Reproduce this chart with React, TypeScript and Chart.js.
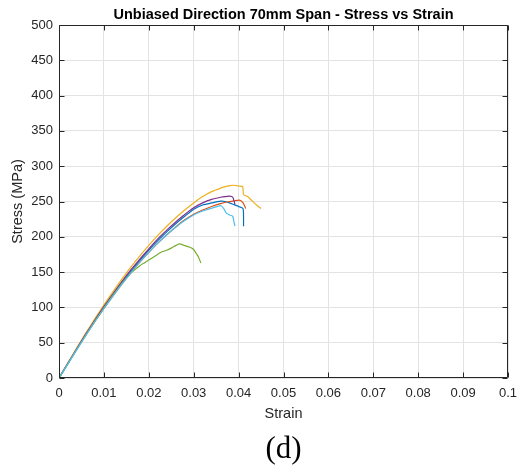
import React, { useEffect, useRef } from "react";
import { Chart, registerables } from "chart.js";
Chart.register(...registerables);

const chartTitle = "Unbiased Direction 70mm Span - Stress vs Strain";
const caption = "(d)";
const xLabel = "Strain";
const yLabel = "Stress (MPa)";

const strain1 = [0, 0.002, 0.004, 0.006, 0.008, 0.010, 0.012, 0.014, 0.016, 0.018, 0.020, 0.022, 0.024, 0.026, 0.028, 0.030, 0.032, 0.034, 0.036, 0.037, 0.038, 0.039, 0.040, 0.041, 0.0411];
const stress1 = [0, 21, 42, 62, 81.5, 100, 118, 135, 151, 166.5, 181, 194.5, 207, 218.5, 229, 239, 245, 248, 250.5, 250, 248, 245.5, 243, 240, 215];

const strain2 = [0, 0.002, 0.004, 0.006, 0.008, 0.010, 0.012, 0.014, 0.016, 0.018, 0.020, 0.022, 0.024, 0.026, 0.028, 0.030, 0.032, 0.034, 0.036, 0.038, 0.039, 0.0402, 0.041, 0.0416];
const stress2 = [0, 20.5, 41, 61, 80, 98.5, 116, 133, 149, 164, 178, 191, 203, 214, 224, 232, 238, 243, 247, 250, 251, 252, 248, 240];

const strain3 = [0, 0.002, 0.004, 0.006, 0.008, 0.010, 0.012, 0.014, 0.016, 0.018, 0.020, 0.022, 0.024, 0.026, 0.028, 0.030, 0.032, 0.034, 0.036, 0.037, 0.038, 0.039, 0.040, 0.0409, 0.0411, 0.042, 0.043, 0.044, 0.045];
const stress3 = [0, 21.5, 43, 64, 84, 103.5, 122, 140, 157, 173, 188, 202, 215, 227, 238, 248, 257, 264, 269, 271, 272.5, 273, 272, 271, 260, 257, 251, 245, 240];

const strain4 = [0, 0.002, 0.004, 0.006, 0.008, 0.010, 0.012, 0.014, 0.016, 0.018, 0.020, 0.022, 0.024, 0.026, 0.028, 0.030, 0.032, 0.034, 0.036, 0.037, 0.038, 0.0387, 0.0392];
const stress4 = [0, 21, 42, 62.5, 82, 101, 119, 136.5, 153, 168.5, 183, 197, 209.5, 221, 231.5, 241, 248, 253, 256, 257, 257.5, 256, 246];

const strain5 = [0, 0.002, 0.004, 0.006, 0.008, 0.010, 0.012, 0.014, 0.015, 0.016, 0.017, 0.018, 0.019, 0.020, 0.0215, 0.0227, 0.024, 0.025, 0.0268, 0.0278, 0.029, 0.030, 0.0305, 0.031, 0.0316];
const stress5 = [0, 20.5, 41, 61, 80.5, 99, 117, 134, 141.5, 148.5, 154, 159, 163, 167, 173, 178, 181, 184, 190, 188, 185.5, 182, 177, 172, 163];

const strain6 = [0, 0.002, 0.004, 0.006, 0.008, 0.010, 0.012, 0.014, 0.016, 0.018, 0.020, 0.022, 0.024, 0.026, 0.028, 0.030, 0.032, 0.034, 0.035, 0.0361, 0.0367, 0.0372, 0.038, 0.0387, 0.039, 0.0392];
const stress6 = [0, 20, 40.5, 60.5, 80, 98.5, 116, 133, 149, 164, 178, 191, 203, 213.5, 223, 231, 236.5, 240.5, 242.5, 244, 240, 234, 231, 229, 220, 215];

const seriesStrain = [strain1, strain2, strain3, strain4, strain5, strain6];
const seriesStress = [stress1, stress2, stress3, stress4, stress5, stress6];
const seriesColors = ["#0072BD", "#D95319", "#EDB120", "#7E2F8E", "#77AC30", "#4DBEEE"];

const xMin = 0, xMax = 0.1, xStep = 0.01;
const yMin = 0, yMax = 500, yStep = 50;

const SANS = "'Liberation Sans', Arial, sans-serif";
const INK = "#262626";

export default function App() {
  const ref = useRef<HTMLCanvasElement>(null);
  useEffect(() => {
    const framePlugin = {
      id: "frame",
      afterDraw(chart: any) {
        const { ctx, chartArea: a, scales } = chart;
        const L = Math.round(a.left) + 0.5, R = Math.round(a.right) - 0.5;
        const T = Math.round(a.top) + 0.5, B = Math.round(a.bottom) - 0.5;
        const tl = 5;
        ctx.save();
        ctx.strokeStyle = INK;
        ctx.lineWidth = 1;
        ctx.beginPath();
        ctx.rect(L, T, R - L, B - T);
        scales.x.ticks.forEach((t: any) => {
          const px = Math.round(scales.x.getPixelForValue(t.value)) + 0.5;
          ctx.moveTo(px, B); ctx.lineTo(px, B - tl);
          ctx.moveTo(px, T); ctx.lineTo(px, T + tl);
        });
        scales.y.ticks.forEach((t: any) => {
          const py = Math.round(scales.y.getPixelForValue(t.value)) + 0.5;
          ctx.moveTo(L, py); ctx.lineTo(L + tl, py);
          ctx.moveTo(R, py); ctx.lineTo(R - tl, py);
        });
        ctx.stroke();
        ctx.restore();
      },
    };
    const datasets = seriesStrain.map((xs, i) => ({
      label: "S" + (i + 1),
      data: xs.map((x, j) => ({ x, y: seriesStress[i][j] })),
      borderColor: seriesColors[i],
      backgroundColor: seriesColors[i],
      borderWidth: 1.2,
      pointRadius: 0,
      tension: 0.2,
      fill: false,
      order: seriesStrain.length - i,
    }));
    const chart = new Chart(ref.current as HTMLCanvasElement, {
      type: "line",
      data: { datasets },
      options: {
        animation: false,
        responsive: true,
        maintainAspectRatio: false,
        layout: { padding: { left: 0, right: 14, top: 0, bottom: 0 } },
        plugins: {
          legend: { display: false },
          tooltip: { enabled: false },
          title: {
            display: true,
            text: chartTitle,
            fullSize: false,
            color: "#000",
            font: { family: SANS, size: 14.5, weight: "bold" },
            padding: { top: 6, bottom: 1.6 },
          },
          subtitle: {
            display: true,
            position: "bottom",
            text: caption,
            fullSize: false,
            color: "#000",
            font: { family: "'Liberation Serif', 'Times New Roman', serif", size: 31, weight: "normal", lineHeight: 1 },
            padding: { top: 4, bottom: 0 },
          },
        },
        scales: {
          x: {
            type: "linear",
            min: xMin,
            max: xMax,
            afterFit: (s: any) => { s.height = 52; s.paddingRight = 0; s.paddingLeft = 0; },
            grid: { color: "#e3e3e3", drawTicks: false, lineWidth: 1 },
            border: { display: false },
            ticks: {
              stepSize: xStep,
              padding: 8,
              color: INK,
              font: { family: SANS, size: 13 },
              maxRotation: 0,
              autoSkip: false,
              callback: (v: any) => String(parseFloat(Number(v).toFixed(2))),
            },
            title: {
              display: true,
              text: xLabel,
              color: INK,
              font: { family: SANS, size: 14.5 },
              padding: { top: 0, bottom: 7.3 },
            },
          },
          y: {
            type: "linear",
            min: yMin,
            max: yMax,
            afterFit: (s: any) => { s.width = 59; },
            grid: { color: "#e3e3e3", drawTicks: false, lineWidth: 1 },
            border: { display: false },
            ticks: {
              stepSize: yStep,
              padding: 6,
              color: INK,
              font: { family: SANS, size: 13 },
              autoSkip: false,
            },
            title: {
              display: true,
              text: yLabel,
              color: INK,
              font: { family: SANS, size: 14.5 },
              padding: { top: 9.3, bottom: 0 },
            },
          },
        },
      },
      plugins: [framePlugin],
    });
    return () => chart.destroy();
  }, []);
  return (
    <div style={{ position: "absolute", left: 0, top: 0, width: 522, height: 465, background: "#fff" }}>
      <canvas ref={ref} />
    </div>
  );
}
